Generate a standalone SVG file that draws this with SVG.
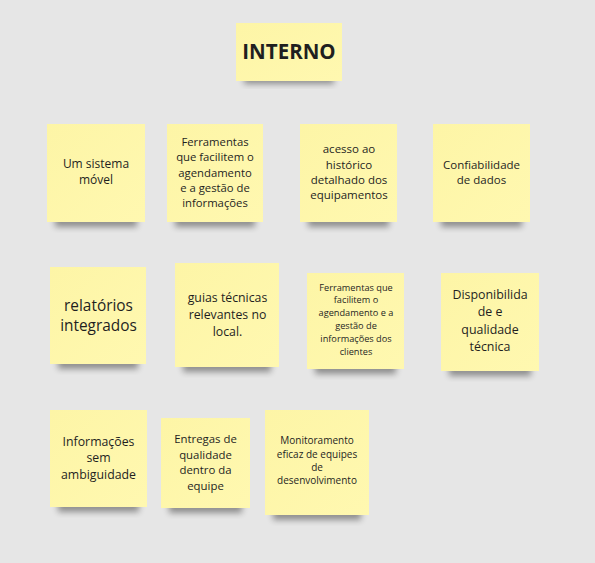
<svg xmlns="http://www.w3.org/2000/svg" width="595" height="563" viewBox="0 0 595 563">
<defs>
<filter id="blur" x="-20%" y="-50%" width="140%" height="200%"><feGaussianBlur stdDeviation="3"/></filter>
<linearGradient id="paper" x1="0" y1="0" x2="1" y2="1">
<stop offset="0" stop-color="#fdf5a6"/>
<stop offset="1" stop-color="#fff8b0"/>
</linearGradient>
</defs>
<style>
.shadow{fill:#000;opacity:0.38;filter:url(#blur)}
.note{fill:url(#paper)}
.t{font-family:"Open Sans","Noto Sans","Liberation Sans",sans-serif;fill:#1f1f1f;text-anchor:middle}
</style>
<rect width="595" height="563" fill="#e6e6e6"/>

<g id="title">
<rect class="shadow" x="244" y="74" width="90" height="10"/>
<rect class="note" x="236" y="23" width="106" height="58"/>
<text class="t" x="289" y="59" font-size="20.5" font-weight="bold">INTERNO</text>
</g>

<g id="n1">
<rect class="shadow" x="55" y="215" width="82" height="12"/>
<rect class="note" x="47" y="124" width="98" height="98"/>
<text class="t" font-size="12"><tspan x="96" y="168">Um sistema</tspan><tspan x="96" y="184">móvel</tspan></text>
</g>

<g id="n2">
<rect class="shadow" x="175" y="215" width="80" height="12"/>
<rect class="note" x="167" y="124" width="96" height="98"/>
<text class="t" font-size="11.3"><tspan x="215" y="146">Ferramentas</tspan><tspan x="215" y="161.3">que facilitem o</tspan><tspan x="215" y="176.6">agendamento</tspan><tspan x="215" y="191.9">e a gestão de</tspan><tspan x="215" y="207.2">informações</tspan></text>
</g>

<g id="n3">
<rect class="shadow" x="308" y="215" width="81" height="12"/>
<rect class="note" x="300" y="124" width="97" height="98"/>
<text class="t" font-size="11.5"><tspan x="349" y="153.3">acesso ao</tspan><tspan x="349" y="168.6">histórico</tspan><tspan x="349" y="183.9">detalhado dos</tspan><tspan x="349" y="199.2">equipamentos</tspan></text>
</g>

<g id="n4">
<rect class="shadow" x="441" y="215" width="81" height="12"/>
<rect class="note" x="433" y="124" width="97" height="98"/>
<text class="t" font-size="11.5"><tspan x="481.5" y="169">Confiabilidade</tspan><tspan x="481.5" y="184.3">de dados</tspan></text>
</g>

<g id="n5">
<rect class="shadow" x="58" y="357" width="80" height="12"/>
<rect class="note" x="50" y="267" width="96" height="97"/>
<text class="t" font-size="15.4"><tspan x="98.5" y="311">relatórios</tspan><tspan x="98.5" y="331">integrados</tspan></text>
</g>

<g id="n6">
<rect class="shadow" x="183" y="360" width="88" height="12"/>
<rect class="note" x="175" y="263" width="104" height="104"/>
<text class="t" font-size="12.3"><tspan x="227.5" y="301.7">guias técnicas</tspan><tspan x="227.5" y="318.7">relevantes no</tspan><tspan x="227.5" y="335.7">local.</tspan></text>
</g>

<g id="n7">
<rect class="shadow" x="315" y="362" width="81" height="12"/>
<rect class="note" x="307" y="273" width="97" height="96"/>
<text class="t" font-size="9.2"><tspan x="356" y="290.5">Ferramentas que</tspan><tspan x="356" y="303.4">facilitem o</tspan><tspan x="356" y="316.3">agendamento e a</tspan><tspan x="356" y="329.2">gestão de</tspan><tspan x="356" y="342.1">informações dos</tspan><tspan x="356" y="355">clientes</tspan></text>
</g>

<g id="n8">
<rect class="shadow" x="449" y="364" width="82" height="12"/>
<rect class="note" x="441" y="273" width="98" height="98"/>
<text class="t" font-size="12.4"><tspan x="490" y="299">Disponibilida</tspan><tspan x="490" y="316.3">de e</tspan><tspan x="490" y="333.6">qualidade</tspan><tspan x="490" y="350.9">técnica</tspan></text>
</g>

<g id="n9">
<rect class="shadow" x="58" y="500" width="81" height="12"/>
<rect class="note" x="50" y="410" width="97" height="97"/>
<text class="t" font-size="12.3"><tspan x="98.5" y="445.7">Informações</tspan><tspan x="98.5" y="462.3">sem</tspan><tspan x="98.5" y="479">ambiguidade</tspan></text>
</g>

<g id="n10">
<rect class="shadow" x="169" y="501" width="73" height="12"/>
<rect class="note" x="161" y="418" width="89" height="90"/>
<text class="t" font-size="11.4"><tspan x="205.5" y="443">Entregas de</tspan><tspan x="205.5" y="458.5">qualidade</tspan><tspan x="205.5" y="474">dentro da</tspan><tspan x="205.5" y="489.5">equipe</tspan></text>
</g>

<g id="n11">
<rect class="shadow" x="273" y="508" width="88" height="12"/>
<rect class="note" x="265" y="410" width="104" height="105"/>
<text class="t" font-size="10"><tspan x="317" y="444.3">Monitoramento</tspan><tspan x="317" y="457.6">eficaz de equipes</tspan><tspan x="317" y="471">de</tspan><tspan x="317" y="484.3">desenvolvimento</tspan></text>
</g>

<g id="connectors"></g>
</svg>
